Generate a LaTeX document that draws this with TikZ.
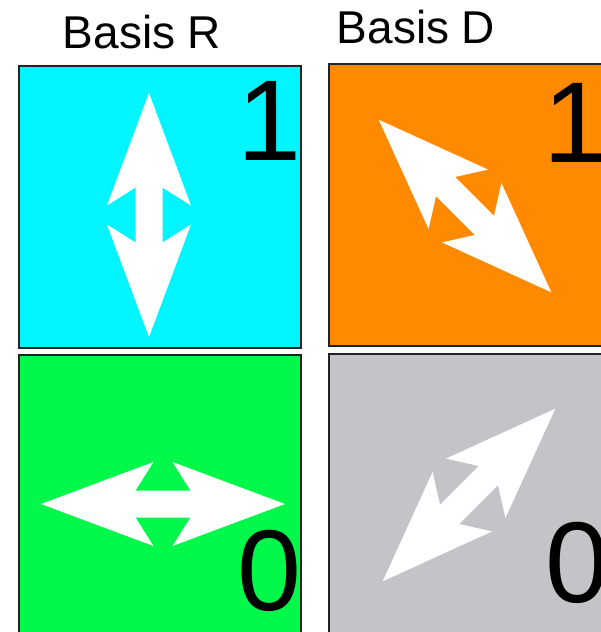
\documentclass[tikz,border=0pt]{standalone}
\usepackage{fontspec}
\setmainfont{Liberation Sans}
\usetikzlibrary{positioning}
\definecolor{bcyan}{HTML}{00F5FF}
\definecolor{borange}{HTML}{FF8A00}
\definecolor{bgreen}{HTML}{00F84A}
\definecolor{bgray}{HTML}{C4C3C7}
\definecolor{bframe}{HTML}{222222}
% white double-headed arrow, centred at #1, turned by #2
\newcommand{\dblarrow}[2]{%
 \fill[white,shift={#1},rotate=#2](0,-122)--(42,-9.5)--(13.5,-27.5)--(13.5,27.5)--(42,9.5)--(0,122)
  --(-42,9.5)--(-13.5,27.5)--(-13.5,-27.5)--(-42,-9.5)--cycle;}

\begin{document}
\begin{tikzpicture}[x=1pt,y=-1pt,
 panel/.style={draw=bframe,line width=2pt,minimum width=282pt,minimum height=282pt,inner sep=0pt},
 title/.style={font=\fontsize{46}{46}\selectfont,anchor=base,inner sep=0pt},
 bit/.style={font=\fontsize{115}{115}\selectfont,anchor=base west,inner sep=0pt}]
\useasboundingbox(0,0)rectangle(601,632);
\clip(0,0)rectangle(601,632);
\fill[white](0,0)rectangle(601,632);
\node[title](tr)at(142,48){Basis R};
\node[title](td)at(416,43){Basis D};
\node[panel,fill=bcyan](r1)at(160,206.5){};
\node[panel,fill=borange](d1)at(469.5,205){};
\node[panel,fill=bgreen,minimum height=285pt](r0)at(160,497.5){};
\node[panel,fill=bgray,minimum height=286pt](d0)at(469.5,497){};
\dblarrow{(149,215)}{0}
\dblarrow{(465,206)}{45}
\dblarrow{(163,504)}{90}
\dblarrow{(469,495)}{-45}
\node[bit](n1)at(237,160){1};
\node[bit](m1)at(543,162){1};
\node[bit](n0)at(237,610){0};
\node[bit](m0)at(545,602){0};
\end{tikzpicture}
\end{document}
